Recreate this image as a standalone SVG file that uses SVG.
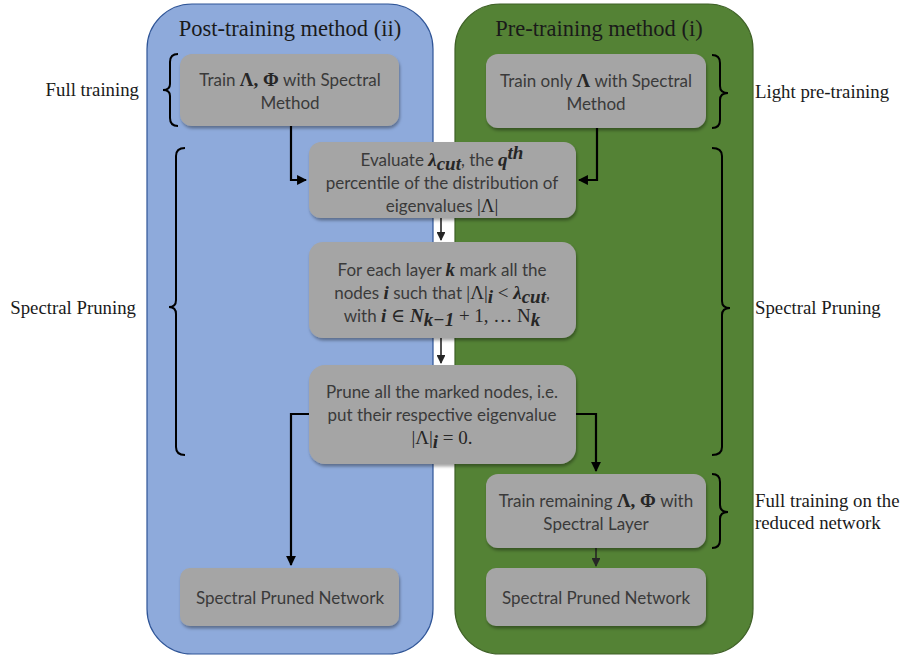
<svg xmlns="http://www.w3.org/2000/svg" width="907" height="657" viewBox="0 0 907 657">
<style>
.box{fill:#a5a5a5;filter:url(#sh)}
.bt{font-family:Lato,"Open Sans",sans-serif;font-weight:400;font-size:17px;fill:#3a3a3a;text-anchor:middle}
.m{font-family:"Liberation Serif","DejaVu Serif",serif;font-weight:bold;font-style:italic;fill:#262626;font-size:19px}
.mu{font-family:"Liberation Serif","DejaVu Serif",serif;font-weight:normal;font-style:normal;fill:#262626;font-size:19px}
.mb{font-family:"Liberation Serif","DejaVu Serif",serif;font-weight:bold;font-style:normal;fill:#262626;font-size:19px}
.lab{font-family:"Liberation Serif",serif;font-size:18.8px;fill:#1a1a1a}
.title{font-family:"Liberation Serif",serif;font-size:22.5px;fill:#1a1a1a;text-anchor:middle}
.br{fill:none;stroke:#000;stroke-width:2}
.c{fill:none;stroke:#000;stroke-width:2.2}
.c2{fill:none;stroke:#262626;stroke-width:1.6}
</style>
<defs>
<filter id="sh" x="-10%" y="-10%" width="120%" height="130%">
<feDropShadow dx="1" dy="2.5" stdDeviation="1.5" flood-color="#000" flood-opacity="0.35"/>
</filter>
<marker id="ah" viewBox="0 0 10 10" refX="9" refY="5" markerWidth="4.5" markerHeight="4.5" orient="auto" markerUnits="strokeWidth">
<path d="M0,0 L10,5 L0,10 z" fill="#000"/>
</marker>
<marker id="ah2" viewBox="0 0 10 10" refX="9" refY="5" markerWidth="5.5" markerHeight="5.5" orient="auto" markerUnits="strokeWidth">
<path d="M0,0 L10,5 L0,10 z" fill="#262626"/>
</marker>
</defs>

<g id="container-post">
<rect x="147" y="4" width="286" height="650" rx="45" fill="#8eaadb" stroke="#2f5597" stroke-width="1.2"/>
<text class="title" x="290" y="36">Post-training method (ii)</text>
</g>
<g id="container-pre">
<rect x="455" y="4" width="298" height="650" rx="45" fill="#548235" stroke="#3f6127" stroke-width="1.2"/>
<text class="title" x="599" y="36">Pre-training method (i)</text>
</g>

<g id="connectors">
<path class="c" d="M291,126 V180 H306" marker-end="url(#ah)"/>
<path class="c" d="M597,128 V180 H579" marker-end="url(#ah)"/>
<path class="c2" d="M441,218 V240" marker-end="url(#ah2)"/>
<path class="c2" d="M441,338 V363" marker-end="url(#ah2)"/>
<path class="c" d="M309,414 H291 V565" marker-end="url(#ah)"/>
<path class="c" d="M576,414 H596 V471" marker-end="url(#ah)"/>
<path class="c2" d="M596,548 V566" marker-end="url(#ah2)"/>
</g>

<g id="node-train-post">
<rect class="box" x="180" y="54" width="219" height="72" rx="12"/>
<text class="bt" x="290" y="86">Train <tspan class="mb">Λ, Φ</tspan> with Spectral</text>
<text class="bt" x="290" y="109">Method</text>
</g>
<g id="node-train-pre">
<rect class="box" x="486" y="54" width="220" height="74" rx="12"/>
<text class="bt" x="596" y="87">Train only <tspan class="mb">Λ</tspan> with Spectral</text>
<text class="bt" x="596" y="110">Method</text>
</g>
<g id="node-evaluate">
<rect class="box" x="309" y="142" width="267" height="76" rx="12"/>
<text class="bt" x="442" y="166">Evaluate <tspan class="m">λ</tspan><tspan class="m" font-size="13" dy="4">cut</tspan><tspan dy="-4">, the </tspan><tspan class="m">q</tspan><tspan class="m" font-size="13" dy="-7">th</tspan></text>
<text class="bt" x="442" y="189">percentile of the distribution of</text>
<text class="bt" x="442" y="212">eigenvalues <tspan class="mu">|Λ|</tspan></text>
</g>
<g id="node-mark">
<rect class="box" x="309" y="242" width="267" height="96" rx="14"/>
<text class="bt" x="442" y="276">For each layer <tspan class="m">k</tspan> mark all the</text>
<text class="bt" x="442" y="299">nodes <tspan class="m">i</tspan> such that <tspan class="mu">|Λ|</tspan><tspan class="m" font-size="13" dy="4">i</tspan><tspan class="mu" dy="-4"> &lt; </tspan><tspan class="m">λ</tspan><tspan class="m" font-size="13" dy="4">cut</tspan><tspan dy="-4">,</tspan></text>
<text class="bt" x="442" y="322">with <tspan class="m">i</tspan><tspan class="mu"> ∈ </tspan><tspan class="m">N</tspan><tspan class="m" font-size="13" dy="4">k−1</tspan><tspan class="mu" dy="-4"> + 1, … N</tspan><tspan class="m" font-size="13" dy="4">k</tspan></text>
</g>
<g id="node-prune">
<rect class="box" x="309" y="365" width="267" height="99" rx="16"/>
<text class="bt" x="442" y="398">Prune all the marked nodes, i.e.</text>
<text class="bt" x="442" y="421">put their respective eigenvalue</text>
<text class="bt" x="442" y="444"><tspan class="mu">|Λ|</tspan><tspan class="m" font-size="13" dy="4">i</tspan><tspan class="mu" dy="-4"> = 0.</tspan></text>
</g>
<g id="node-train-remaining">
<rect class="box" x="486" y="474" width="220" height="74" rx="12"/>
<text class="bt" x="596" y="507">Train remaining <tspan class="mb">Λ, Φ</tspan> with</text>
<text class="bt" x="596" y="530">Spectral Layer</text>
</g>
<g id="node-result-post">
<rect class="box" x="180" y="568" width="219" height="58" rx="10"/>
<text class="bt" x="290" y="604">Spectral Pruned Network</text>
</g>
<g id="node-result-pre">
<rect class="box" x="486" y="568" width="220" height="58" rx="10"/>
<text class="bt" x="596" y="604">Spectral Pruned Network</text>
</g>

<g id="braces">
<path class="br" d="M178,54 Q170,54 170,62 V84 Q170,90 163,90 Q170,90 170,96 V118 Q170,126 178,126"/>
<path class="br" d="M185,148 Q176,148 176,156 V300 Q176,307 169,307 Q176,307 176,314 V447 Q176,455 185,455"/>
<path class="br" d="M712,55 Q720,55 720,63 V86 Q720,93 728,93 Q720,93 720,100 V120 Q720,128 712,128"/>
<path class="br" d="M712,148 Q722,148 722,156 V301 Q722,308 730,308 Q722,308 722,315 V447 Q722,455 712,455"/>
<path class="br" d="M712,474 Q720,474 720,482 V505 Q720,512 728,512 Q720,512 720,519 V540 Q720,548 712,548"/>
</g>

<g id="labels">
<text class="lab" x="139" y="96" text-anchor="end">Full training</text>
<text class="lab" x="136" y="314" text-anchor="end">Spectral Pruning</text>
<text class="lab" x="755" y="98">Light pre-training</text>
<text class="lab" x="755" y="314">Spectral Pruning</text>
<text class="lab" x="755" y="507">Full training on the</text>
<text class="lab" x="755" y="529">reduced network</text>
</g>
</svg>
